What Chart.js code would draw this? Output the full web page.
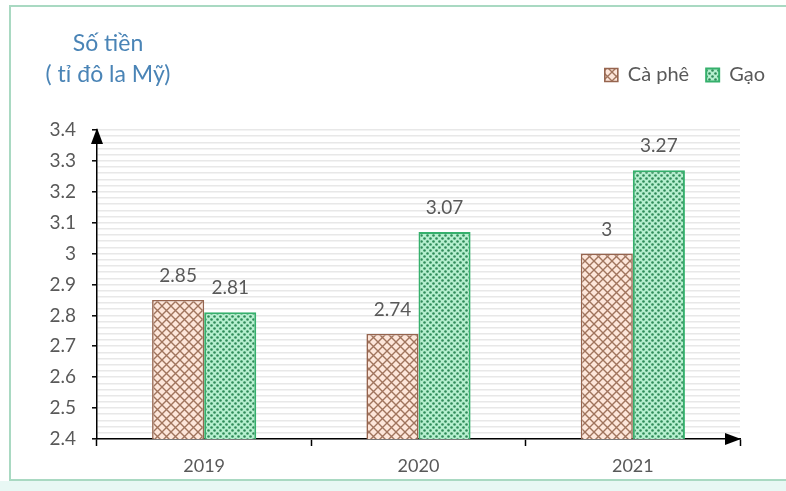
<!DOCTYPE html>
<html>
<head>
<meta charset="utf-8">
<script src="https://cdn.jsdelivr.net/npm/chart.js@4.4.0/dist/chart.umd.min.js"></script>
<style>
html,body{margin:0;padding:0;background:#fff;}
#wrap{position:relative;width:786px;height:491px;overflow:hidden;background:#fff;}
#frame{position:absolute;left:9px;top:5px;width:800px;height:476px;border:2px solid #a9d9c2;box-sizing:border-box;}
#band{position:absolute;left:0;top:481px;width:786px;height:10px;background:#e8f8f4;}
canvas{position:absolute;left:0;top:0;}
</style>
</head>
<body>
<div id="wrap"><div id="frame"></div><div id="band"></div><canvas id="c" width="786" height="491"></canvas></div>
<script>
// ---- data ----
const categories = ['2019', '2020', '2021'];
const seriesNames = ['Cà phê', 'Gạo'];
const caPhe = [2.85, 2.74, 3];
const gao = [2.81, 3.07, 3.27];
const titleLines = ['Số tiền', '( tỉ đô la Mỹ)'];
const yMin = 2.4, yMax = 3.4, yLabelStep = 0.1, yStripeStep = 0.02;

const FONT = 'Lato, Carlito, Calibri, "Open Sans", sans-serif';
const cvs = document.getElementById('c');
const ctx = cvs.getContext('2d');

function crossPattern() {
  const s = 9, c = document.createElement('canvas');
  c.width = c.height = s;
  const g = c.getContext('2d');
  g.fillStyle = '#fde6da'; g.fillRect(0, 0, s, s);
  g.strokeStyle = '#a0745d'; g.lineWidth = 1.4;
  g.beginPath();
  g.moveTo(-1, -1); g.lineTo(s + 1, s + 1);
  g.moveTo(s + 1, -1); g.lineTo(-1, s + 1);
  g.stroke();
  return ctx.createPattern(c, 'repeat');
}
function dotPattern() {
  const s = 6, c = document.createElement('canvas');
  c.width = c.height = s;
  const g = c.getContext('2d');
  g.fillStyle = '#b6efcf'; g.fillRect(0, 0, s, s);
  g.fillStyle = '#2f8a58';
  [[1.5, 1.5], [4.5, 4.5]].forEach(([x, y]) => { g.beginPath(); g.arc(x, y, 1.3, 0, Math.PI * 2); g.fill(); });
  return ctx.createPattern(c, 'repeat');
}

const isMajor = v => Math.abs(v / yLabelStep - Math.round(v / yLabelStep)) < 1e-6;
const fmtMajor = v => String(Math.round(v / yLabelStep) / Math.round(1 / yLabelStep));

const valueLabels = {
  id: 'valueLabels',
  afterDatasetsDraw(chart) {
    const c = chart.ctx;
    c.save();
    c.font = '19px ' + FONT;
    c.fillStyle = '#595959';
    c.textAlign = 'center';
    c.textBaseline = 'middle';
    chart.data.datasets.forEach((ds, i) => {
      chart.getDatasetMeta(i).data.forEach((el, j) => {
        c.fillText(String(ds.data[j]), el.x, el.y - 24);
      });
    });
    c.restore();
  }
};

const axisArrows = {
  id: 'axisArrows',
  afterDraw(chart) {
    const {left, right, top, bottom} = chart.chartArea;
    const c = chart.ctx;
    c.save();
    c.fillStyle = '#000';
    c.beginPath();
    c.moveTo(left, top - 2); c.lineTo(left - 6, top + 14); c.lineTo(left + 6, top + 14); c.closePath(); c.fill();
    c.beginPath();
    c.moveTo(right + 1, bottom); c.lineTo(right - 15, bottom - 6); c.lineTo(right - 15, bottom + 6); c.closePath(); c.fill();
    c.restore();
  }
};

const unitTitle = {
  id: 'unitTitle',
  afterDraw(chart) {
    const c = chart.ctx;
    c.save();
    c.font = '23px ' + FONT;
    c.fillStyle = '#4a84b6';
    c.textAlign = 'center';
    c.textBaseline = 'alphabetic';
    c.fillText(titleLines[0], 108, 51);
    c.fillText(titleLines[1], 108, 82);
    c.restore();
  }
};

new Chart(cvs, {
  type: 'bar',
  data: {
    labels: categories,
    datasets: [
      { label: seriesNames[0], data: caPhe, backgroundColor: crossPattern(), borderColor: '#96654f', borderWidth: 1.6 },
      { label: seriesNames[1], data: gao, backgroundColor: dotPattern(), borderColor: '#35b06c', borderWidth: 2 }
    ]
  },
  options: {
    responsive: false,
    animation: false,
    devicePixelRatio: 1,
    layout: { padding: { left: 0, right: 4, top: 48, bottom: 0 } },
    datasets: { bar: { barPercentage: 1, categoryPercentage: 0.486 } },
    plugins: {
      legend: {
        display: true, position: 'top', align: 'end', weight: 2000,
        labels: { font: { family: FONT, size: 20 }, color: '#595959', boxWidth: 13, boxHeight: 13, padding: 17 }
      },
      subtitle: { display: true, text: '', weight: 1500, font: { size: 10, lineHeight: 1 }, padding: { top: 25, bottom: 0 } },
      title: { display: false },
      tooltip: { enabled: false }
    },
    scales: {
      x: {
        grid: { offset: true, drawOnChartArea: false, drawTicks: true, tickLength: 7, tickColor: '#000', tickWidth: 1.5 },
        border: { display: true, color: '#000', width: 1.5 },
        ticks: { font: { family: FONT, size: 18 }, color: '#595959', padding: 9 },
        afterFit(s) { s.height = 52; }
      },
      y: {
        min: yMin, max: yMax,
        grid: {
          color: '#e8e8e8', lineWidth: 1.6, drawTicks: true, tickLength: 5, tickWidth: 1.5,
          tickColor: c => (c.tick && isMajor(c.tick.value)) ? '#000' : 'rgba(0,0,0,0)'
        },
        border: { display: true, color: '#000', width: 1.5 },
        ticks: {
          stepSize: yStripeStep, autoSkip: false, padding: 16,
          font: { family: FONT, size: 19 }, color: '#595959',
          callback: v => isMajor(v) ? fmtMajor(v) : ''
        },
        afterFit(s) { s.width = 97; }
      },
      yr: {
        position: 'right', display: true,
        grid: { display: false }, border: { display: false }, ticks: { display: false },
        afterFit(s) { s.width = 42; }
      }
    }
  },
  plugins: [valueLabels, axisArrows, unitTitle]
});
</script>
</body>
</html>
